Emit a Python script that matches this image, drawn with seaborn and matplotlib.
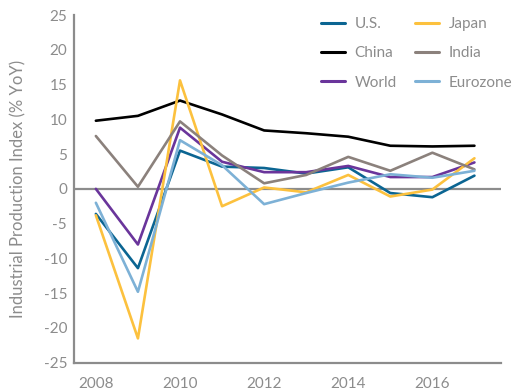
import matplotlib
matplotlib.use("Agg")
import matplotlib.pyplot as plt
import seaborn as sns
import pandas as pd

years = [2008, 2009, 2010, 2011, 2012, 2013, 2014, 2015, 2016, 2017]
us = [-3.6, -11.4, 5.5, 3.2, 3.0, 2.2, 3.1, -0.6, -1.2, 1.9]
china = [9.8, 10.5, 12.7, 10.7, 8.4, 8.0, 7.5, 6.2, 6.1, 6.2]
world = [0.0, -8.0, 8.8, 3.9, 2.4, 2.4, 3.3, 1.7, 1.7, 3.8]
japan = [-3.8, -21.5, 15.6, -2.5, 0.2, -0.5, 2.0, -1.1, -0.1, 4.4]
india = [7.6, 0.3, 9.7, 4.8, 0.8, 2.0, 4.6, 2.6, 5.2, 2.8]
eurozone = [-2.0, -14.8, 7.0, 3.4, -2.2, -0.6, 0.9, 2.1, 1.6, 2.6]

series_names = ["U.S.", "China", "World", "Japan", "India", "Eurozone"]
series_values = [us, china, world, japan, india, eurozone]
colors = ["#0b6592", "#000000", "#6a359b", "#fcc13e", "#8b817c", "#7db1d6"]

y_ticks = [-25, -20, -15, -10, -5, 0, 5, 10, 15, 20, 25]
x_ticks = [2008, 2010, 2012, 2014, 2016]
y_label = "Industrial Production Index (% YoY)"

frames = [pd.DataFrame({"Year": years, "Value": v, "Series": n})
          for n, v in zip(series_names, series_values)]
df = pd.concat(frames, ignore_index=True)

sns.set_theme(style="white")
plt.rcParams["font.family"] = ["Lato", "DejaVu Sans"]
grey = "#8c8c8c"

fig = plt.figure(figsize=(5.16, 3.92), dpi=100)
ax = fig.add_axes([0.1434, 0.0747, 0.8266, 0.887])

ax.axhline(0, color=grey, lw=1.6, zorder=1)
sns.lineplot(data=df, x="Year", y="Value", hue="Series",
             hue_order=series_names,
             palette=dict(zip(series_names, colors)),
             linewidth=1.9, ax=ax, zorder=3)

ax.set_xlim(2007.48, 2017.62)
ax.set_ylim(-25, 25)
ax.set_yticks(y_ticks)
ax.set_yticklabels([str(t) for t in y_ticks])
ax.set_xticks(x_ticks + [2017.62])
ax.set_xticklabels([str(t) for t in x_ticks] + [""])

for side in ["top", "right"]:
    ax.spines[side].set_visible(False)
for side in ["left", "bottom"]:
    ax.spines[side].set_color(grey)
    ax.spines[side].set_linewidth(1.6)

ax.tick_params(axis="y", direction="in", length=9.5, width=1.6,
               color=grey, labelcolor=grey, labelsize=11, pad=5)
ax.tick_params(axis="x", direction="out", length=9, width=1.6,
               color=grey, labelcolor=grey, labelsize=11, pad=1)
ax.set_xlabel("")
ax.set_ylabel(y_label, color=grey, fontsize=12)
ax.yaxis.set_label_coords(-0.112, 0.5)

leg = ax.legend(ncol=2, frameon=False, loc="upper left",
                bbox_to_anchor=(320.7 / 516, 1 - 17 / 392),
                bbox_transform=fig.transFigure,
                borderaxespad=0, borderpad=0, fontsize=11,
                handlelength=1.57, columnspacing=1.2, labelspacing=1.0,
                handletextpad=0.65)
for t in leg.get_texts():
    t.set_color(grey)
for h in leg.get_lines():
    h.set_linewidth(2.2)

fig.savefig("out.png", dpi=100)
